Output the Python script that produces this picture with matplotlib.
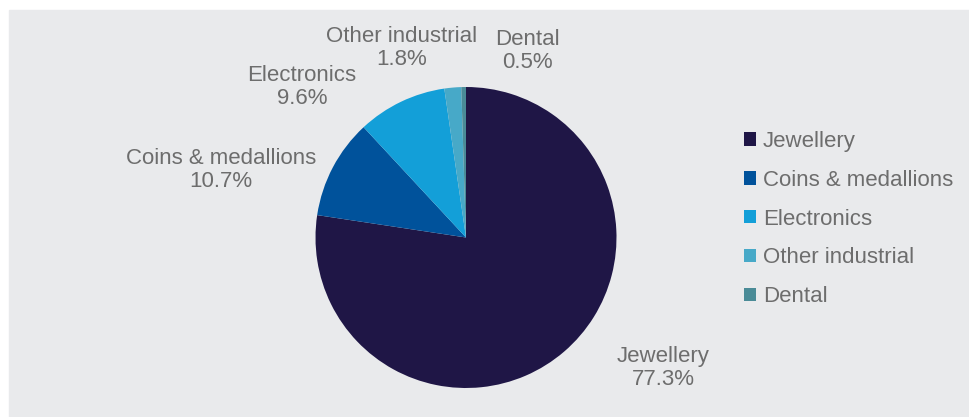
import matplotlib
matplotlib.use("Agg")
import matplotlib.pyplot as plt
from matplotlib.patches import Rectangle, Patch

plt.rcParams['font.family'] = ['Liberation Sans', 'DejaVu Sans']

# gold demand by sector, share in %
categories = ['Jewellery', 'Coins & medallions', 'Electronics', 'Other industrial', 'Dental']
shares = [77.3, 10.7, 9.6, 1.8, 0.5]
colors = ['#1f1646', '#00529b', '#139fd8', '#47a9c8', '#4a8b97']

# label centres, pixels from top-left
label_pos = [(663, 368), (221, 170), (302, 87), (402, 48), (527, 51)]

W, H = 969, 417
txt_col = '#6d6d6d'

fig = plt.figure(figsize=(W / 100, H / 100), dpi=100)
fig.patches.append(Rectangle((9 / W, 0), 1 - 9 / W, (H - 10) / H,
                             transform=fig.transFigure, color='#e9eaec', zorder=-5))

ax = fig.add_axes([0, 0, 1, 1])
ax.patch.set_visible(False)

ax.pie(shares, colors=colors, startangle=90, counterclock=False,
       center=(466, H - 237.5), radius=150.5,
       wedgeprops=dict(linewidth=0))
ax.set_xlim(0, W)
ax.set_ylim(0, H)
ax.set_aspect('equal')
ax.axis('off')

for name, val, (x, y) in zip(categories, shares, label_pos):
    ax.text(x, H - y, '%s\n%.1f%%' % (name, val), ha='center', va='center',
            fontsize=16, color=txt_col, linespacing=1.1)

handles = [Patch(facecolor=c, edgecolor='none') for c in colors]
leg = fig.legend(handles, categories, loc='upper left',
                 bbox_to_anchor=(744 / W, (H - 131) / H), frameon=False,
                 fontsize=16, handlelength=0.55, handleheight=0.55,
                 handletextpad=0.3, labelspacing=0.8, borderpad=0, borderaxespad=0)
for t in leg.get_texts():
    t.set_color(txt_col)

fig.savefig('out.png', dpi=100)
